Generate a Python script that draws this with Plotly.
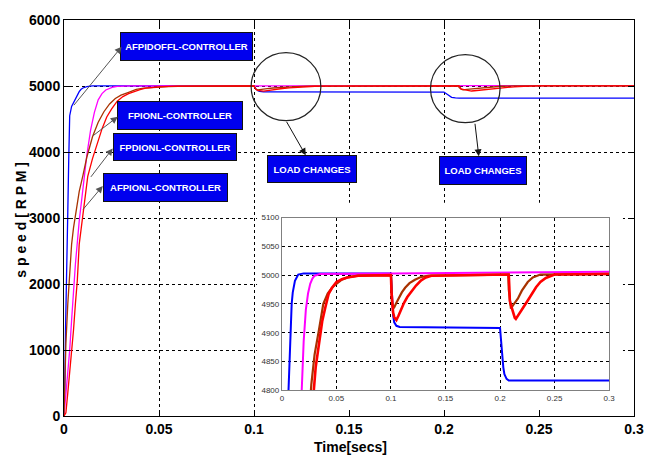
import plotly.graph_objects as go

# ---------------- data ----------------
t_blue = [0, 0.0004, 0.0008, 0.0012, 0.0016, 0.002, 0.0025, 0.003, 0.004, 0.005, 0.006, 0.007,
          0.008, 0.009, 0.010, 0.012, 0.015, 0.02, 0.1, 0.1005, 0.101, 0.102, 0.103, 0.105, 0.108,
          0.2, 0.201, 0.202, 0.203, 0.204, 0.206, 0.208, 0.3]
v_blue = [0, 400, 1300, 2100, 2700, 3100, 3900, 4550, 4690, 4750, 4795, 4855,
          4915, 4950, 4970, 4990, 5001, 5003, 5003, 4985, 4955, 4930, 4918, 4912, 4910,
          4908, 4885, 4860, 4840, 4828, 4820, 4817, 4817]

t_mag = [0, 0.001, 0.002, 0.003, 0.004, 0.005, 0.006, 0.008, 0.010, 0.012, 0.014, 0.016, 0.018,
         0.020, 0.022, 0.024, 0.026, 0.028, 0.030, 0.035, 0.1, 0.2, 0.3]
v_mag = [0, 300, 650, 1000, 1450, 1950, 2300, 2950, 3450, 3950, 4330, 4600, 4790,
         4885, 4940, 4968, 4985, 4994, 4999, 5002, 5003, 5004, 5006]

t_brown = [0, 0.0005, 0.001, 0.002, 0.003, 0.004, 0.005, 0.006, 0.008, 0.010, 0.012, 0.015, 0.018,
           0.021, 0.024, 0.027, 0.030, 0.034, 0.038, 0.042, 0.046, 0.050, 0.055, 0.060, 0.070,
           0.1, 0.1005, 0.101, 0.102, 0.103, 0.105, 0.107, 0.110, 0.113, 0.117, 0.122, 0.128, 0.135,
           0.2075, 0.208, 0.209, 0.210, 0.212, 0.2163, 0.220, 0.2254, 0.230, 0.237, 0.3]
v_brown = [0, 700, 1100, 1700, 2200, 2600, 2850, 3050, 3400, 3650, 3920, 4230, 4450,
           4610, 4728, 4810, 4862, 4905, 4950, 4968, 4978, 4985, 4992, 4996, 4999,
           5000, 4970, 4952, 4942, 4944, 4952, 4960, 4970, 4978, 4986, 4992, 4997, 4999,
           5001, 4975, 4952, 4942, 4948, 4959, 4973, 4988, 4996, 5001, 5002]

t_red = [0, 0.001, 0.002, 0.003, 0.004, 0.005, 0.006, 0.007, 0.008, 0.010, 0.0125, 0.015, 0.0175,
         0.020, 0.0225, 0.025, 0.028, 0.031, 0.034, 0.037, 0.040, 0.043, 0.046, 0.050, 0.055, 0.060,
         0.070, 0.1, 0.1005, 0.101, 0.102, 0.103, 0.105, 0.107, 0.1095, 0.112, 0.115, 0.1186, 0.123,
         0.1277, 0.132, 0.137, 0.208, 0.2085, 0.209, 0.2105, 0.212, 0.2135, 0.2145, 0.216, 0.219,
         0.222, 0.2254, 0.229, 0.233, 0.237, 0.242, 0.25, 0.3]
v_red = [0, 50, 350, 650, 950, 1300, 1700, 2050, 2600, 3100, 3630, 3900, 4140,
         4350, 4530, 4650, 4770, 4840, 4885, 4920, 4945, 4968, 4978, 4988, 4993, 4996,
         4999, 5000, 4970, 4950, 4935, 4927, 4922, 4930, 4942, 4952, 4962, 4971, 4982,
         4991, 4996, 4999, 5001, 4980, 4955, 4945, 4935, 4926, 4924, 4928, 4938,
         4946, 4956, 4968, 4979, 4988, 4995, 5001, 5002]

main_xticks = [0, 0.05, 0.1, 0.15, 0.2, 0.25, 0.3]
main_xlabels = ["0", "0.05", "0.1", "0.15", "0.2", "0.25", "0.3"]
main_yticks = [0, 1000, 2000, 3000, 4000, 5000, 6000]
inset_yticks = [4800, 4850, 4900, 4950, 5000, 5050, 5100]

series = [
    ("AFPIDOFFL", t_blue, v_blue, "#0000ff", 1.3, 2.0),
    ("FPIONL", t_mag, v_mag, "#ff00ff", 1.3, 2.0),
    ("FPDIONL", t_brown, v_brown, "#a83200", 1.3, 2.2),
    ("AFPIONL", t_red, v_red, "#ff0000", 1.3, 2.6),
]

FONT = "Liberation Sans, Arial, sans-serif"

fig = go.Figure()
for name, t, v, col, w_main, w_in in series:
    fig.add_trace(go.Scatter(x=t, y=v, mode="lines", name=name,
                             line=dict(color=col, width=w_main), xaxis="x", yaxis="y",
                             showlegend=False))
for name, t, v, col, w_main, w_in in series:
    fig.add_trace(go.Scatter(x=t, y=v, mode="lines", name=name,
                             line=dict(color=col, width=w_in), xaxis="x2", yaxis="y2",
                             showlegend=False))

W, H = 656, 463
L, R, T, B = 64, 19, 15, 47
PW, PH = W - L - R, H - T - B


def px(xp):
    return (xp - L) / PW


def py(yp):
    return (H - B - yp) / PH


fig.update_layout(
    width=W, height=H,
    margin=dict(l=L, r=R, t=T, b=B),
    paper_bgcolor="white", plot_bgcolor="white",
    font=dict(family=FONT, color="black"),
    xaxis=dict(domain=[0, 1], range=[0, 0.3], tickvals=main_xticks, ticktext=main_xlabels,
               showline=True, linecolor="black", linewidth=1, mirror="ticks",
               ticks="inside", ticklen=6, tickcolor="black",
               showgrid=True, gridcolor="black", gridwidth=1, griddash="3px,3px",
               zeroline=False, tickfont=dict(size=14, weight="bold", family=FONT)),
    yaxis=dict(domain=[0, 1], range=[0, 6000], tickvals=main_yticks,
               showline=True, linecolor="black", linewidth=1, mirror="ticks",
               ticks="inside", ticklen=6, tickcolor="black",
               showgrid=True, gridcolor="black", gridwidth=1, griddash="3px,3px",
               zeroline=False, tickfont=dict(size=14, weight="bold", family=FONT)),
    xaxis2=dict(domain=[px(283), px(612)], anchor="y2", range=[0, 0.3],
                tickvals=main_xticks, ticktext=main_xlabels,
                showline=True, linecolor="#808080", linewidth=1, mirror=True,
                ticks="", showgrid=True, gridcolor="black", gridwidth=1, griddash="3px,3px",
                zeroline=False, tickfont=dict(size=8, color="#333333", family=FONT)),
    yaxis2=dict(domain=[py(390), py(215)], anchor="x2", range=[4800, 5100],
                tickvals=inset_yticks,
                showline=True, linecolor="#808080", linewidth=1, mirror=True,
                ticks="", showgrid=True, gridcolor="black", gridwidth=1, griddash="3px,3px",
                zeroline=False, tickfont=dict(size=8, color="#333333", family=FONT)),
)

# white backing behind the inset (hides main grid)
fig.add_shape(type="rect", xref="x", yref="y", x0=0.1016, x1=0.2942, y0=120, y1=3232,
              fillcolor="white", line=dict(width=0), layer="between")

# circles marking load changes
fig.add_shape(type="circle", xref="x", yref="y", x0=0.0985, x1=0.1352, y0=4474, y1=5506,
              line=dict(color="#222222", width=1.2))
fig.add_shape(type="circle", xref="x", yref="y", x0=0.1929, x1=0.2295, y0=4444, y1=5476,
              line=dict(color="#222222", width=1.2))

# label boxes
boxes = [
    ("AFPIDOFFL-CONTROLLER", 121, 254, 27, 56),
    ("FPIONL-CONTROLLER", 118, 244, 97, 126),
    ("FPDIONL-CONTROLLER", 114, 238, 130, 158),
    ("AFPIONL-CONTROLLER", 104, 229, 170, 199),
    ("LOAD CHANGES", 268, 358, 152, 180),
    ("LOAD CHANGES", 441, 529, 153, 182),
]
for txt, x0, x1, y0, y1 in boxes:
    fig.add_annotation(xref="paper", yref="paper", x=px((x0 + x1) / 2), y=py((y0 + y1) / 2),
                       xanchor="center", yanchor="middle", text=txt, showarrow=False,
                       width=x1 - x0 - 2, height=y1 - y0 - 2,
                       bgcolor="#0000ee", bordercolor="#111111", borderwidth=1, borderpad=0,
                       font=dict(size=9.5, color="white", weight="bold", family=FONT))

# arrows (tail -> head)
arrows = [
    ((73, 102), (122, 42), "#555555"),
    ((92, 133), (118, 113), "#555555"),
    ((90, 175), (113, 145), "#555555"),
    ((82, 208), (103, 183), "#555555"),
    ((287, 117), (307, 152), "#111111"),
    ((477, 119), (481, 153), "#111111"),
]
for (tx, ty), (hx, hy), col in arrows:
    fig.add_annotation(xref="paper", yref="paper", x=px(hx), y=py(hy), text="",
                       showarrow=True, ax=tx - hx, ay=ty - hy, arrowhead=2, arrowsize=1.4,
                       arrowwidth=1, arrowcolor=col, standoff=0)

# axis titles
fig.add_annotation(xref="paper", yref="paper", x=px(352), y=py(447), text="Time[secs]",
                   showarrow=False, xanchor="center", yanchor="middle",
                   font=dict(size=14, weight="bold", family=FONT))
fig.add_annotation(xref="paper", yref="paper", x=px(21), y=py(217),
                   text="s p e e d [ R P M ]", textangle=-90,
                   showarrow=False, xanchor="center", yanchor="middle",
                   font=dict(size=14, weight="bold", family=FONT))

fig.write_html("out.html")
